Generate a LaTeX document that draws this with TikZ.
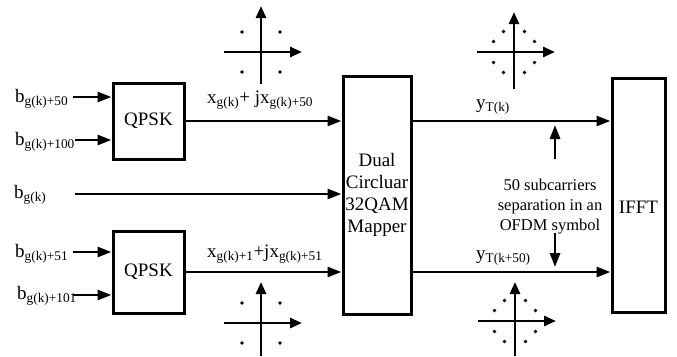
\documentclass[tikz,border=0pt]{standalone}
\usepackage{fontspec}
\setmainfont{Liberation Serif}
\usetikzlibrary{arrows.meta, positioning}
\tikzset{
  blk/.style={rectangle, draw, line width=3pt, inner sep=0pt,
    font=\fontsize{19}{22}\selectfont, align=center},
  lbl/.style={inner sep=0pt, font=\fontsize{19}{22}\selectfont},
  note/.style={inner sep=0pt, align=center, font=\fontsize{16.5}{20}\selectfont},
  arr/.style={-{Triangle[length=14pt,width=10pt]}, line width=2.8pt},
  axis/.style={-{Triangle[length=12pt,width=10pt]}, line width=2.8pt},
}

\begin{document}
\begin{tikzpicture}[x=1pt, y=-1pt]
  \useasboundingbox (0,0) rectangle (677,356);

  % blocks
  \node[blk, minimum width=71pt, minimum height=76pt] (qpskA) at (148.5,121) {QPSK};
  \node[blk, minimum width=71pt, minimum height=82pt] (qpskB) at (148.5,272) {QPSK};
  \node[blk, minimum width=68pt, minimum height=238pt] (mapper) at (377,195)
    {Dual\\Circluar\\32QAM\\Mapper};
  \node[blk, minimum width=53pt, minimum height=234pt] (ifft) at (638.5,195) {};
  \node[lbl] (iffttxt) at (638.5,207) {IFFT};

  % input bits
  \node[lbl, anchor=base west] (bA) at (15,102) {b\textsubscript{g(k)+50}};
  \node[lbl, anchor=base west] (bB) at (15,145) {b\textsubscript{g(k)+100}};
  \node[lbl, anchor=base west] (bC) at (14,198) {b\textsubscript{g(k)}};
  \node[lbl, anchor=base west] (bD) at (15,257) {b\textsubscript{g(k)+51}};
  \node[lbl, anchor=base west] (bE) at (17,299) {b\textsubscript{g(k)+101}};
  \coordinate (inA) at (73,97);
  \coordinate (inB) at (75,140);
  \coordinate (inC) at (75,194);
  \coordinate (inD) at (73,252);
  \coordinate (inE) at (73,295);
  \draw[arr] (inA) -- (inA -| qpskA.west);
  \draw[arr] (inB) -- (inB -| qpskA.west);
  \draw[arr] (inC) -- (inC -| mapper.west);
  \draw[arr] (inD) -- (inD -| qpskB.west);
  \draw[arr] (inE) -- (inE -| qpskB.west);

  % symbols between the blocks
  \draw[arr] (qpskA.east) -- (qpskA.east -| mapper.west);
  \draw[arr] (qpskB.east) -- (qpskB.east -| mapper.west);
  \draw[arr] (mapper.east |- qpskA.east) -- (ifft.west |- qpskA.east);
  \draw[arr] (mapper.east |- qpskB.east) -- (ifft.west |- qpskB.east);
  \node[lbl, anchor=base west] (xA) at (207,103) {x\textsubscript{g(k)}+ jx\textsubscript{g(k)+50}};
  \node[lbl, anchor=base west] (xB) at (207,257) {x\textsubscript{g(k)+1}+jx\textsubscript{g(k)+51}};
  \node[lbl, anchor=base west] (yA) at (476,108) {y\textsubscript{T(k)}};
  \node[lbl, anchor=base west] (yB) at (476,259) {y\textsubscript{T(k+50)}};

  % subcarrier separation
  \node[note] (sep) at (550,207) {50 subcarriers\\separation in an\\OFDM symbol};
  \coordinate (upFoot) at (555,159);
  \coordinate (upTip) at (555,125);
  \coordinate (dnFoot) at (555,233);
  \coordinate (dnTip) at (555,267);
  \draw[arr] (upFoot) -- (upTip);
  \draw[arr] (dnFoot) -- (dnTip);

  % QPSK constellations
  \foreach \cy/\lo/\hi in {52/84/6, 323/356/282} {
    \draw[axis] (224,\cy) -- (302,\cy);
    \draw[axis] (261,\lo) -- (261,\hi);
    \foreach \dx in {-19,19}
      \foreach \dy in {-20,20}
        \fill ({261+(\dx)},{\cy+(\dy)}) circle (1.9pt);
  }

  % dual circular 32QAM constellations
  \foreach \cx/\cy/\lo/\hi in {514/52/89/12, 515/321/356/282} {
    \draw[axis] ({\cx-37},\cy) -- ({\cx+41},\cy);
    \draw[axis] (\cx,\lo) -- (\cx,\hi);
    \foreach \a in {27,63,117,153,207,243,297,333}
      \fill (\cx,\cy) ++(\a:23) circle (1.9pt);
  }
\end{tikzpicture}
\end{document}
